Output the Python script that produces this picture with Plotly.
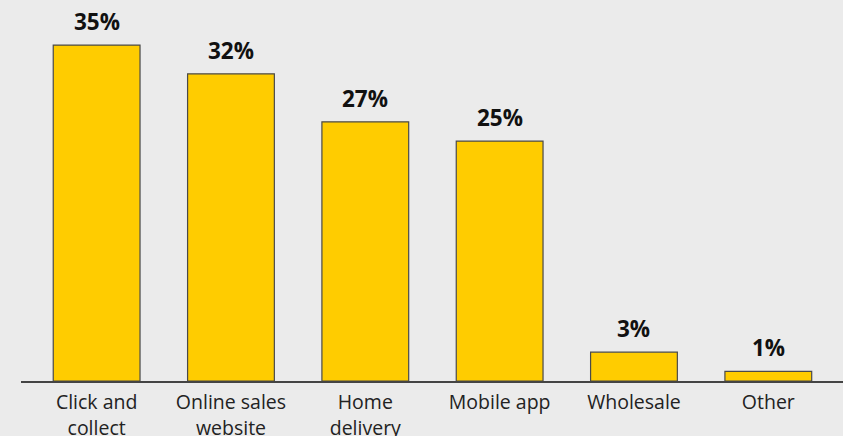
import plotly.graph_objects as go

# Share of respondents by sales channel
channels = ["Click and<br>collect", "Online sales<br>website", "Home<br>delivery",
            "Mobile app", "Wholesale", "Other"]
shares = [35, 32, 27, 25, 3, 1]
share_labels = [f"{v}%" for v in shares]

BG = "#ebebeb"
BAR = "#ffcc00"
FONT = "Open Sans"

fig = go.Figure(
    go.Bar(
        x=channels,
        y=shares,
        marker=dict(color=BAR, line=dict(color="#4a4a4a", width=1.2)),
        hoverinfo="skip",
    )
)

for c, v, t in zip(channels, shares, share_labels):
    fig.add_annotation(
        x=c, y=v, text=f"<b>{t}</b>", showarrow=False,
        yanchor="bottom", yshift=6,
        font=dict(family=FONT, size=22.5, color="#111111"),
    )

fig.update_layout(
    width=843, height=436,
    margin=dict(l=21, r=0, t=10, b=55),
    paper_bgcolor=BG, plot_bgcolor=BG,
    bargap=0.354,
    showlegend=False,
    font=dict(family=FONT, size=19.5, color="#222222"),
    xaxis=dict(
        range=[-0.563, 5.556],
        showline=True, linecolor="#444444", linewidth=1.6,
        ticks="", showgrid=False, zeroline=False,
        automargin=False,
        ticklabelstandoff=3,
        tickfont=dict(family=FONT, size=19.5, color="#222222"),
    ),
    yaxis=dict(
        range=[0, 38.65], visible=False, showgrid=False, zeroline=False,
        automargin=False,
    ),
)

fig.write_html("out.html")
